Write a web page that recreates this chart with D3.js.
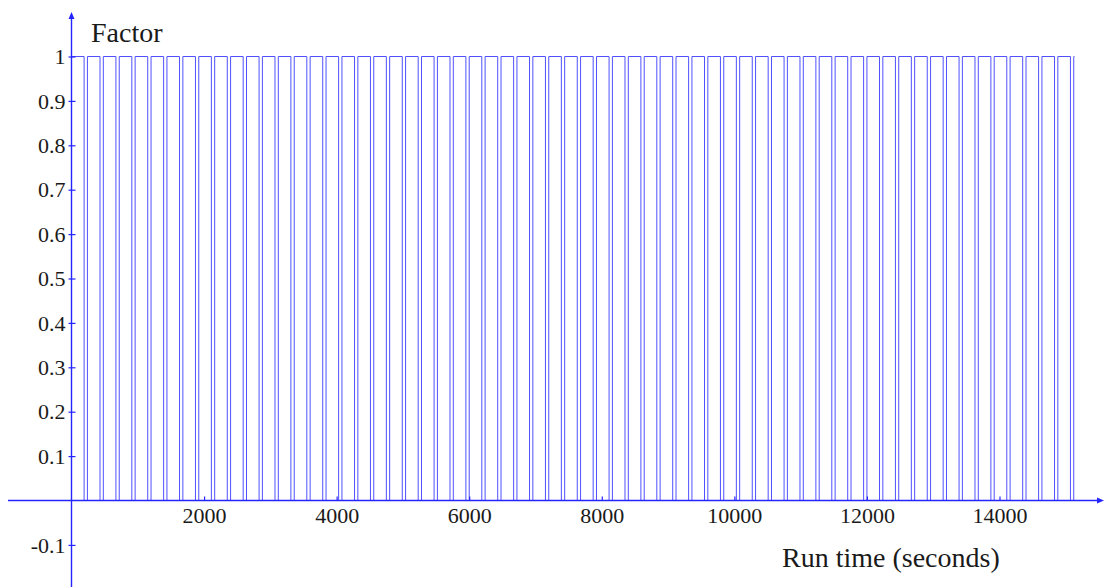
<!DOCTYPE html>
<html>
<head>
<meta charset="utf-8">
<script src="https://cdn.jsdelivr.net/npm/d3@7"></script>
<style>
  html, body { margin: 0; padding: 0; background: #fff; }
  svg { display: block; }
  text { font-family: "Liberation Serif", "Times New Roman", serif; fill: #1a1a1a; }
</style>
</head>
<body>
<svg id="chart" width="1106" height="587"></svg>
<script>
// Times (s) at which the factor switches off (1 -> 0)
const dropTimes = [
  190, 430, 670, 910, 1150, 1390, 1630, 1870, 2110, 2350, 2590, 2830, 3070, 3310,
  3550, 3790, 4030, 4270, 4510, 4750, 4990, 5230, 5470, 5710, 5950, 6190, 6430,
  6670, 6910, 7150, 7390, 7630, 7870, 8110, 8350, 8590, 8830, 9070, 9310, 9550,
  9790, 10030, 10270, 10510, 10750, 10990, 11230, 11470, 11710, 11950, 12190,
  12430, 12670, 12910, 13150, 13390, 13630, 13870, 14110, 14350, 14590, 14830, 15070
];
// Times (s) at which the factor switches back on (0 -> 1)
const riseTimes = [
  240, 480, 720, 960, 1200, 1440, 1680, 1920, 2160, 2400, 2640, 2880, 3120, 3360,
  3600, 3840, 4080, 4320, 4560, 4800, 5040, 5280, 5520, 5760, 6000, 6240, 6480,
  6720, 6960, 7200, 7440, 7680, 7920, 8160, 8400, 8640, 8880, 9120, 9360, 9600,
  9840, 10080, 10320, 10560, 10800, 11040, 11280, 11520, 11760, 12000, 12240,
  12480, 12720, 12960, 13200, 13440, 13680, 13920, 14160, 14400, 14640, 14880, 15120
];
const startTime = 0;
const endTime = 15130;

const xTicks = [2000, 4000, 6000, 8000, 10000, 12000, 14000];
const yTicks = [-0.1, 0.1, 0.2, 0.3, 0.4, 0.5, 0.6, 0.7, 0.8, 0.9, 1];

const svg = d3.select("#chart");
const axisColor = "#2424ff";
const lineColor = "#5050ff";

const x = d3.scaleLinear().domain([0, 14000]).range([71.5, 999.5]);
const y = d3.scaleLinear().domain([0, 1]).range([500.5, 56.5]);

// Step series built from the switching times
const points = [[startTime, 1]];
dropTimes.forEach((d, i) => {
  points.push([d, 0]);
  points.push([riseTimes[i], 1]);
});
points.push([endTime, 1]);

const line = d3.line()
  .x(d => x(d[0]))
  .y(d => y(d[1]))
  .curve(d3.curveStepAfter);

svg.append("path")
  .datum(points)
  .attr("fill", "none")
  .attr("stroke", lineColor)
  .attr("stroke-width", 1)
  .attr("d", line);

// Axes lines with arrowheads
const x0 = x(0), y0 = y(0);
const xAxisLeft = 8, xAxisRight = 1104;
const yAxisTop = 12, yAxisBottom = 587;

svg.append("line")
  .attr("x1", xAxisLeft).attr("x2", xAxisRight - 4)
  .attr("y1", y0).attr("y2", y0)
  .attr("stroke", axisColor).attr("stroke-width", 1.4);
svg.append("path")
  .attr("d", `M${xAxisRight},${y0} L${xAxisRight - 7},${y0 - 3} L${xAxisRight - 7},${y0 + 3} Z`)
  .attr("fill", axisColor);

svg.append("line")
  .attr("x1", x0).attr("x2", x0)
  .attr("y1", yAxisBottom).attr("y2", yAxisTop + 4)
  .attr("stroke", axisColor).attr("stroke-width", 1.4);
svg.append("path")
  .attr("d", `M${x0},${yAxisTop} L${x0 - 3},${yAxisTop + 7} L${x0 + 3},${yAxisTop + 7} Z`)
  .attr("fill", axisColor);

// X ticks and labels
const xAxis = d3.axisBottom(x).tickValues(xTicks).tickSize(0).tickFormat(d => String(d));
const gx = svg.append("g").attr("transform", `translate(0,${y0})`).call(xAxis)
  .attr("font-size", 22)
  .attr("font-family", "'Liberation Serif', serif");
gx.select(".domain").remove();
gx.selectAll(".tick line")
  .attr("y1", 0).attr("y2", -4)
  .attr("stroke", axisColor).attr("stroke-width", 1.2);
gx.selectAll(".tick text")
  .attr("y", 22.5).attr("dy", 0)
  .attr("fill", "#1a1a1a");

// Y ticks and labels (plain hyphen for the negative value)
const yAxis = d3.axisLeft(y).tickValues(yTicks).tickSize(0).tickFormat(d => String(d));
const gy = svg.append("g").attr("transform", `translate(${x0},0)`).call(yAxis)
  .attr("font-size", 22)
  .attr("font-family", "'Liberation Serif', serif");
gy.select(".domain").remove();
gy.selectAll(".tick line")
  .attr("x1", -3).attr("x2", 4)
  .attr("stroke", axisColor).attr("stroke-width", 1.2);
gy.selectAll(".tick text")
  .attr("x", -6).attr("dy", "0.33em")
  .attr("fill", "#1a1a1a");

// Axis titles
svg.append("text")
  .attr("x", 91).attr("y", 42)
  .style("font-size", "28px")
  .text("Factor");

svg.append("text")
  .attr("x", 782).attr("y", 567)
  .style("font-size", "28px")
  .text("Run time (seconds)");
</script>
</body>
</html>
